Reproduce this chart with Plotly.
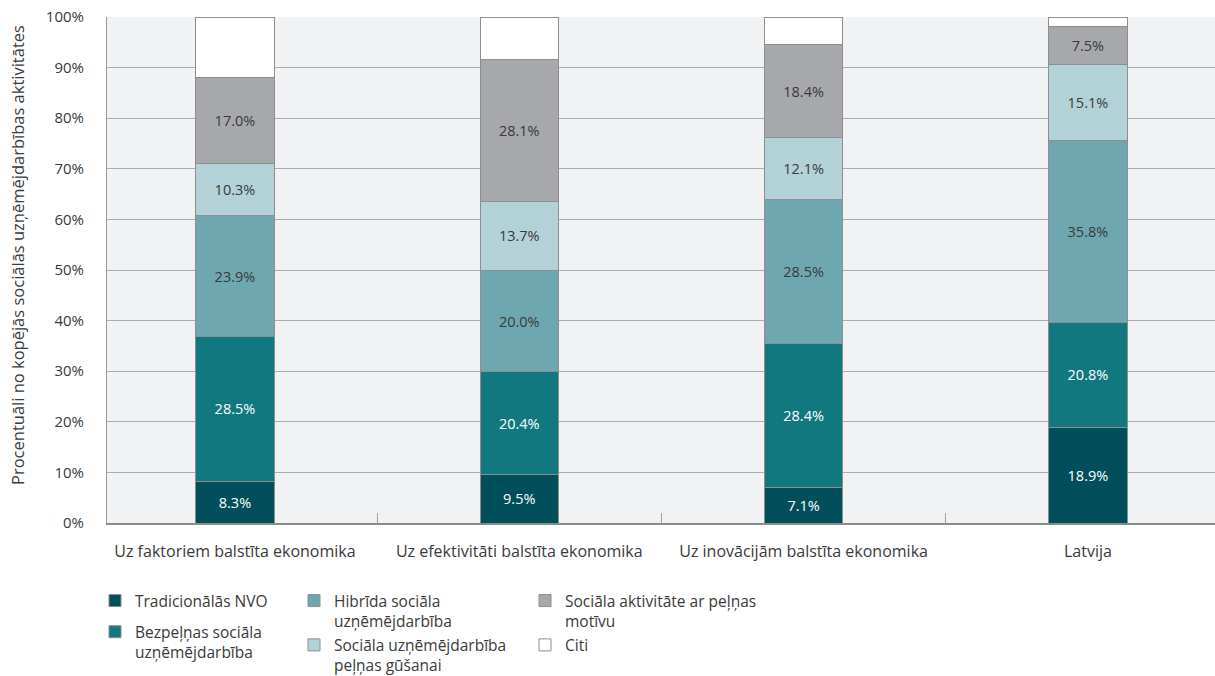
import plotly.graph_objects as go

# Economy groups and the share of each type of social entrepreneurship activity (%)
categories = [
    "Uz faktoriem balstīta ekonomika",
    "Uz efektivitāti balstīta ekonomika",
    "Uz inovācijām balstīta ekonomika",
    "Latvija",
]
tradicionalas_nvo = [8.3, 9.5, 7.1, 18.9]
bezpelnas = [28.5, 20.4, 28.4, 20.8]
hibrida = [23.9, 20.0, 28.5, 35.8]
pelnas_gusanai = [10.3, 13.7, 12.1, 15.1]
pelnas_motivs = [17.0, 28.1, 18.4, 7.5]
citi = [12.0, 8.3, 5.5, 1.9]

y_ticks = [0, 10, 20, 30, 40, 50, 60, 70, 80, 90, 100]
y_tick_labels = [f"{t}%" for t in y_ticks]

FONT = "Open Sans"
DARK_TEXT = "#3a3a3a"

series = [
    ("Tradicionālās NVO", tradicionalas_nvo, "#004f5b", "#ffffff", "legend"),
    ("Bezpeļņas sociāla<br>uzņēmējdarbība", bezpelnas, "#127880", "#ffffff", "legend"),
    ("Hibrīda sociāla<br>uzņēmējdarbība", hibrida, "#6fa7b1", DARK_TEXT, "legend2"),
    ("Sociāla uzņēmējdarbība<br>peļņas gūšanai", pelnas_gusanai, "#b2d2d8", DARK_TEXT, "legend2"),
    ("Sociāla aktivitāte ar peļņas<br>motīvu", pelnas_motivs, "#a7a8ac", DARK_TEXT, "legend3"),
    ("Citi", citi, "#ffffff", DARK_TEXT, "legend3"),
]

fig = go.Figure()
for i, (name, vals, color, tcolor, leg) in enumerate(series):
    show_text = name != "Citi"
    fig.add_trace(go.Bar(
        x=categories,
        y=vals,
        name=name,
        legend=leg,
        legendgroup=f"g{i}",
        marker=dict(color=color, line=dict(color="#8e8e8e", width=1)),
        width=0.275,
        text=[f"{v:.1f}%" for v in vals] if show_text else None,
        textposition="inside" if show_text else "none",
        insidetextanchor="middle",
        textangle=0,
        textfont=dict(family=FONT, size=14.5, color=tcolor),
        hoverinfo="skip",
    ))

legend_common = dict(
    orientation="v",
    xref="paper",
    yref="paper",
    yanchor="top",
    xanchor="left",
    valign="top",
    traceorder="grouped",
    bgcolor="rgba(0,0,0,0)",
    font=dict(family=FONT, size=15.5, color=DARK_TEXT),
    itemclick=False,
)

PLOT_W = 1215 - 107
PLOT_H = 676 - 17 - 153
legend_top = (523 - 584) / PLOT_H

fig.update_layout(
    barmode="stack",
    width=1215,
    height=676,
    margin=dict(l=107, r=0, t=17, b=153, autoexpand=False),
    paper_bgcolor="#ffffff",
    plot_bgcolor="#f1f2f4",
    font=dict(family=FONT, size=14, color=DARK_TEXT),
    showlegend=True,
    legend=dict(legend_common, x=(95 - 107) / PLOT_W, y=legend_top, tracegroupgap=8),
    legend2=dict(legend_common, x=(294 - 107) / PLOT_W, y=legend_top, tracegroupgap=1),
    legend3=dict(legend_common, x=(525 - 107) / PLOT_W, y=legend_top, tracegroupgap=1),
    xaxis=dict(
        type="category",
        range=[-0.45, 3.447],
        showgrid=False,
        showline=True,
        linecolor="#8c8c8c",
        linewidth=1.5,
        ticks="inside",
        tickson="boundaries",
        ticklen=10,
        tickcolor="#a0a0a0",
        tickwidth=1,
        tickangle=0,
        ticklabelstandoff=13,
        tickfont=dict(family=FONT, size=16, color=DARK_TEXT),
    ),
    yaxis=dict(
        range=[0, 100],
        tickmode="array",
        tickvals=y_ticks,
        ticktext=y_tick_labels,
        showgrid=True,
        gridcolor="#adadad",
        gridwidth=1,
        zeroline=False,
        showline=True,
        linecolor="#9a9a9a",
        linewidth=1,
        ticks="",
        ticklabelstandoff=19,
        tickfont=dict(family=FONT, size=15, color=DARK_TEXT),
    ),
    annotations=[
        dict(
            text="Procentuāli no kopējās sociālās uzņēmējdarbības aktivitātes",
            textangle=-90,
            xref="paper",
            yref="paper",
            x=(18 - 107) / PLOT_W,
            y=(523 - 255) / PLOT_H,
            xanchor="center",
            yanchor="middle",
            showarrow=False,
            font=dict(family=FONT, size=16.5, color=DARK_TEXT),
        )
    ],
)

fig.write_html("out.html")
